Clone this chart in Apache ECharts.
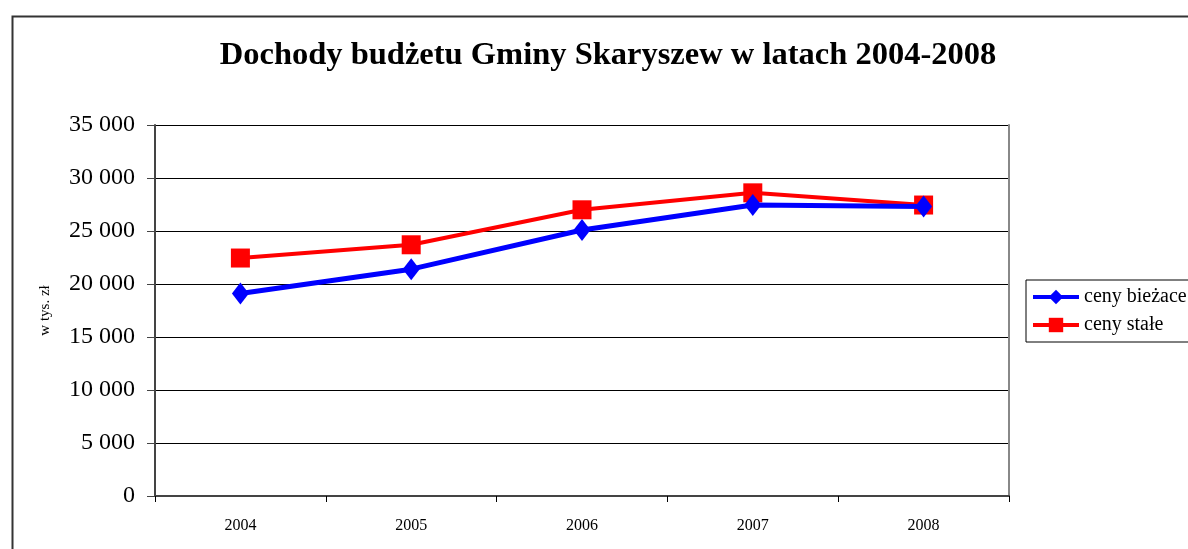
<!DOCTYPE html>
<html><head><meta charset="utf-8">
<script src="https://cdn.jsdelivr.net/npm/echarts@6/dist/echarts.min.js"></script>
<style>html,body{margin:0;padding:0;background:#fff}#c{width:1188px;height:549px}</style>
</head><body><div id="c"></div>
<script>
const title = 'Dochody budżetu Gminy Skaryszew w latach 2004-2008';
const years = ['2004', '2005', '2006', '2007', '2008'];
const cenyBiezace = [19100, 21400, 25100, 27450, 27300];
const cenyStale = [22450, 23700, 27000, 28600, 27450];
const seriesNames = ['ceny bieżace', 'ceny stałe'];
const yAxisName = 'w tys. zł';

const serif = '"Liberation Serif", "DejaVu Serif", serif';
const chart = echarts.init(document.getElementById('c'));
chart.setOption({
  animation: false,
  backgroundColor: '#fff',
  title: {
    text: title, left: 603, top: 34, textAlign: 'center',
    textStyle: { fontFamily: serif, fontSize: 32.5, fontWeight: 'bold', color: '#000' }
  },
  graphic: [{
    type: 'rect', left: 10, top: 14, silent: true,
    shape: { width: 1300, height: 700 },
    style: { fill: 'none', stroke: '#333', lineWidth: 2 }
  }],
  grid: { left: 155, top: 125, width: 854, height: 371, containLabel: false },
  legend: {
    left: 1026, top: 280, orient: 'vertical',
    itemWidth: 46, itemHeight: 18, itemGap: 8,
    padding: [7, 8, 7, 5],
    borderColor: '#000', borderWidth: 1,
    lineStyle: { width: 4 },
    textStyle: { fontFamily: serif, fontSize: 20, color: '#000' },
    data: seriesNames
  },
  xAxis: {
    type: 'category', data: years, boundaryGap: true,
    axisLine: { lineStyle: { color: '#444', width: 2 } },
    axisTick: { show: true, length: 6, lineStyle: { color: '#000', width: 1 } },
    axisLabel: { fontFamily: serif, fontSize: 16, color: '#000', margin: 22 }
  },
  yAxis: [{
    type: 'value', min: 0, max: 35000, interval: 5000,
    name: yAxisName, nameLocation: 'middle', nameGap: 102, nameRotate: 90,
    nameTextStyle: { fontFamily: serif, fontSize: 15, color: '#000' },
    axisLine: { show: true, lineStyle: { color: '#444', width: 2 } },
    axisTick: { show: true, length: 8, lineStyle: { color: '#444' } },
    axisLabel: {
      fontFamily: serif, fontSize: 24, color: '#000', margin: 20,
      formatter: v => v === 0 ? '0' : String(v).replace(/\B(?=(\d{3})+(?!\d))/g, ' ')
    },
    splitLine: { show: true, lineStyle: { color: '#000', width: 1 } }
  }, {
    type: 'value', min: 0, max: 35000, interval: 5000, position: 'right',
    axisLine: { show: true, lineStyle: { color: '#888', width: 2 } },
    axisTick: { show: false }, axisLabel: { show: false }, splitLine: { show: false }
  }],
  series: [{
    name: seriesNames[0], type: 'line', data: cenyBiezace,
    symbol: 'diamond', symbolSize: [17, 22],
    lineStyle: { color: '#0000ff', width: 5 },
    itemStyle: { color: '#0000ff' }, z: 3
  }, {
    name: seriesNames[1], type: 'line', data: cenyStale,
    symbol: 'rect', symbolSize: 19,
    lineStyle: { color: '#ff0000', width: 4 },
    itemStyle: { color: '#ff0000' }, z: 2
  }]
});
</script></body></html>
